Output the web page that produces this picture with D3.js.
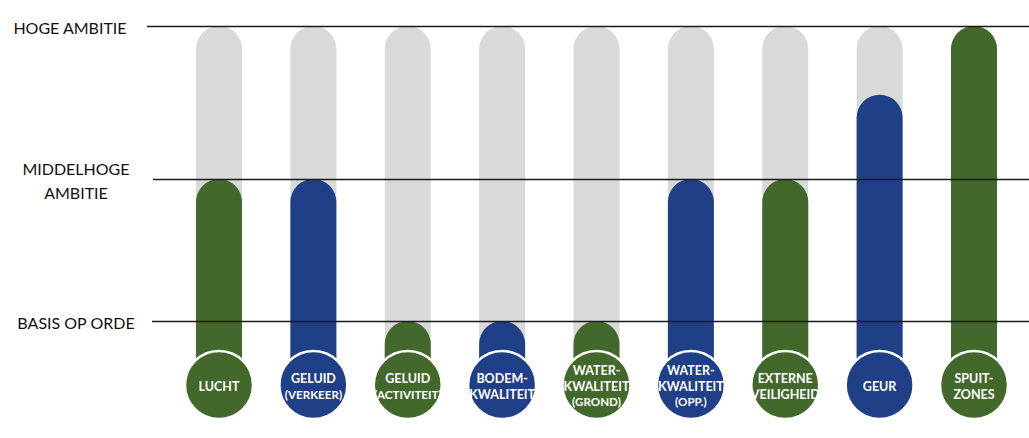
<!DOCTYPE html>
<html>
<head>
<meta charset="utf-8">
<script src="https://cdn.jsdelivr.net/npm/d3@7"></script>
<style>
  html, body { margin: 0; padding: 0; background: #ffffff; }
  svg { display: block; }
</style>
</head>
<body>
<svg id="chart" width="1029" height="438"></svg>
<script>
// ---- data ----
const categories = ["lucht", "geluidVerkeer", "geluidActiviteit", "bodem", "waterGrond", "waterOpp", "externe", "geur", "spuitzones"];
const categoryLabels = [
  ["LUCHT"],
  ["GELUID", "(VERKEER)"],
  ["GELUID", "(ACTIVITEIT)"],
  ["BODEM-", "KWALITEIT"],
  ["WATER-", "KWALITEIT", "(GROND)"],
  ["WATER-", "KWALITEIT", "(OPP.)"],
  ["EXTERNE", "VEILIGHEID"],
  ["GEUR"],
  ["SPUIT-", "ZONES"]
];
// 1 = basis op orde, 2 = middelhoge ambitie, 3 = hoge ambitie
const ambitionValues = [2, 2, 1, 1, 1, 2, 2, 2.55, 3];
const seriesColor = ["green", "blue", "green", "blue", "green", "blue", "green", "blue", "green"];
const levelValues = [1, 2, 3];
const levelLabels = [["BASIS OP ORDE"], ["MIDDELHOGE", "AMBITIE"], ["HOGE AMBITIE"]];

// ---- styling ----
const palette = { green: "#43682B", blue: "#1F3F87", track: "#D9D9D9" };
const W = 1029, H = 438;
const barW = 46, circleR = 34, circleY = 385;

const svg = d3.select("#chart");

const x = d3.scalePoint().domain(categories).range([219, 974]);
const y = d3.scaleLinear().domain(levelValues).range([321, 179, 26]);

// grey tracks
svg.append("g").selectAll("rect")
  .data(categories)
  .join("rect")
  .attr("x", d => x(d) - barW / 2)
  .attr("y", y(3))
  .attr("width", barW)
  .attr("height", circleY - y(3))
  .attr("rx", barW / 2)
  .attr("fill", palette.track);

// value bars
svg.append("g").selectAll("rect")
  .data(categories)
  .join("rect")
  .attr("x", d => x(d) - barW / 2)
  .attr("y", (d, i) => y(ambitionValues[i]))
  .attr("width", barW)
  .attr("height", (d, i) => circleY - y(ambitionValues[i]))
  .attr("rx", barW / 2)
  .attr("fill", (d, i) => palette[seriesColor[i]]);

// level lines + labels
const levelStart = [152, 153, 147];
svg.append("g").selectAll("line")
  .data(levelValues)
  .join("line")
  .attr("x1", (d, i) => levelStart[i])
  .attr("x2", W)
  .attr("y1", d => y(d) + 0.5)
  .attr("y2", d => y(d) + 0.5)
  .attr("stroke", "#1a1a1a")
  .attr("stroke-width", 1.3);

const lbl = svg.append("g")
  .attr("font-family", "Lato, 'Open Sans', sans-serif")
  .attr("font-size", 16)
  .attr("fill", "#111");
levelValues.forEach((v, i) => {
  const lines = levelLabels[i];
  const n = lines.length;
  const cx = i === 2 ? 70 : 76;
  const t = lbl.append("text")
    .attr("text-anchor", "middle");
  lines.forEach((s, j) => {
    t.append("tspan")
      .attr("x", cx)
      .attr("y", y(v) + 1 + (j - (n - 1) / 2) * 24)
      .attr("dominant-baseline", "central")
      .text(s);
  });
});

// circles with labels
const badges = svg.append("g").selectAll("g")
  .data(categories)
  .join("g")
  .attr("transform", d => `translate(${x(d)},${circleY})`);

badges.append("circle")
  .attr("r", circleR)
  .attr("fill", (d, i) => palette[seriesColor[i]])
  .attr("stroke", "#ffffff")
  .attr("stroke-width", 2.5);

badges.each(function(d, i) {
  const lines = categoryLabels[i];
  const n = lines.length;
  const t = d3.select(this).append("text")
    .attr("text-anchor", "middle")
    .attr("font-family", "Lato, 'Open Sans', sans-serif")
    .attr("font-weight", "bold")
    .attr("fill", "#ffffff");
  lines.forEach((s, j) => {
    t.append("tspan")
      .attr("x", 0)
      .attr("y", (j - (n - 1) / 2) * (n > 2 ? 15.5 : 16) + 1)
      .attr("dominant-baseline", "central")
      .attr("font-size", s.startsWith("(") ? 11.6 : 12.5)
      .text(s);
  });
});
</script>
</body>
</html>
